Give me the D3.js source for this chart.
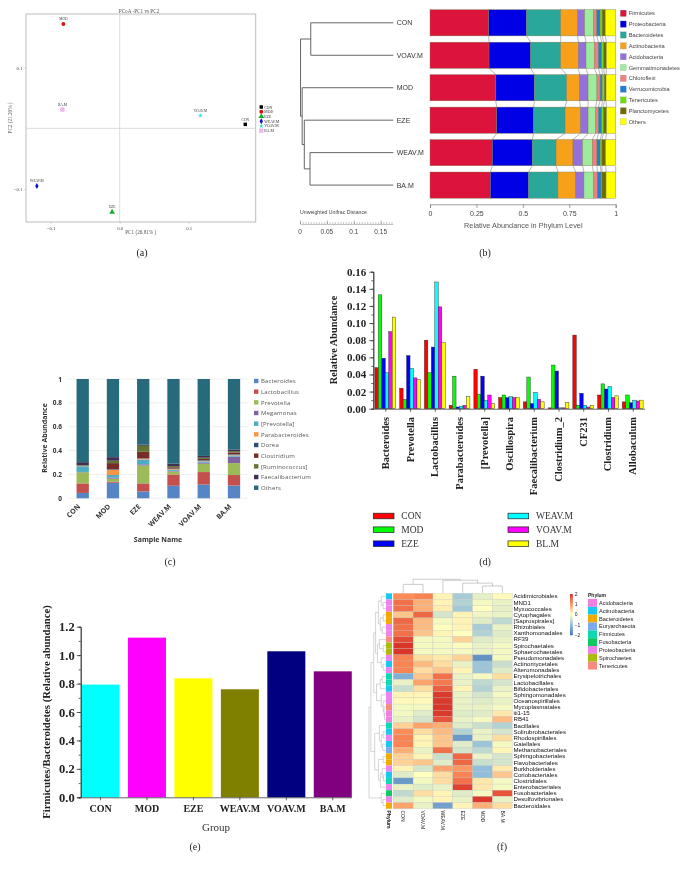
<!DOCTYPE html>
<html><head><meta charset="utf-8">
<script src="https://cdn.jsdelivr.net/npm/d3@7/dist/d3.min.js"></script>
<style>
html,body{margin:0;padding:0;background:#fff}
svg{display:block;filter:blur(0.3px)}
text{font-family:"Liberation Serif",serif}
.sans text,text.sans{font-family:"Liberation Sans",Arial,sans-serif}
.osans text{font-family:"Open Sans",sans-serif}
.soft{filter:blur(0.35px)}
</style></head><body>
<svg id="c" width="685" height="869"></svg>
<script>
// ---------- (a) PCoA
const pcoaNames = ["CON","MOD","EZE","WEAV.M","VOAV.M","BA.M"];
const pcoaX = [0.182,-0.0816,-0.011,-0.12,0.117,-0.083];
const pcoaY = [0.0066,0.172,-0.138,-0.095,0.021,0.031];
const pcoaColors = ["#000000","#e01010","#10b030","#1010d0","#30e0e0","#e48be4"];
const pcoaTicks = [-0.1,0,0.1];
// ---------- (b) phylum
const phyla = ["Firmicutes","Proteobacteria","Bacteroidetes","Actinobacteria","Acidobacteria","Gemmatimonadetes","Chloroflexi","Verrucomicrobia","Tenericutes","Planctomycetes","Others"];
const phylaColors = ["#DC143C","#0000E6","#2AA79B","#F7A11A","#9370DB","#9DEB9D","#F08080","#1E7FD8","#6EDD10","#6B6B00","#FFFF00"];
const phylaSamples = ["CON","VOAV.M","MOD","EZE","WEAV.M","BA.M"];
const phylaCON  = [.316,.204,.184,.091,.038,.047,.018,.018,.011,.017,.056];
const phylaVOAV = [.318,.224,.162,.095,.041,.045,.022,.018,.010,.015,.050];
const phylaMOD  = [.354,.208,.174,.070,.045,.048,.017,.012,.011,.009,.052];
const phylaEZE  = [.359,.199,.169,.083,.041,.041,.015,.018,.009,.017,.049];
const phylaWEAV = [.336,.215,.128,.091,.052,.052,.025,.018,.009,.020,.054];
const phylaBA   = [.325,.206,.158,.096,.044,.051,.021,.020,.005,.022,.052];
const phylaRows = [phylaCON,phylaVOAV,phylaMOD,phylaEZE,phylaWEAV,phylaBA];
// distance of each merge node, leaves by index into phylaSamples
const unifracTree = [.001,[.02,0,1],[.004,2,[.008,3,[.0186,4,5]]]];
const unifracLeafDist = .1735;
// ---------- (c) genus stacked
const genera = ["Bacteroides","Lactobacillus","Prevotella","Megamonas","[Prevotella]","Parabacteroides","Dorea","Clostridium","[Ruminococcus]","Faecalibacterium","Others"];
const generaColors = ["#5585C5","#C4504E","#9BBB59","#8064A2","#4BACC6","#F79646","#2C4D75","#772C2A","#5F7530","#403152","#276A7C"];
const generaSamples = ["CON","MOD","EZE","WEAV.M","VOAV.M","BA.M"];
const genCON  = [.045,.08,.093,.003,.047,.002,.002,.002,.004,.025,.697];
const genMOD  = [.13,.01,.025,.01,.02,.045,.005,.05,.02,.03,.655];
const genEZE  = [.058,.067,.15,.01,.04,.007,.003,.055,.05,.01,.55];
const genWEAV = [.105,.095,.025,.005,.01,.005,.005,.01,.01,.02,.71];
const genVOAV = [.115,.105,.07,.01,.01,.005,.005,.01,.01,.015,.645];
const genBA   = [.107,.088,.1,.055,.01,.005,.005,.015,.01,.015,.59];
const genRows = [genCON,genMOD,genEZE,genWEAV,genVOAV,genBA];
// ---------- (d) grouped
const dGenera = ["Bacteroides","Prevotella","Lactobacillus","Parabacteroides","[Prevotella]","Oscillospira","Faecalibacterium","Clostridium_2","CF231","Clostridium","Allobaculum"];
const dGroups = ["CON","MOD","EZE","WEAV.M","VOAV.M","BL.M"];
const dColors = ["#ff0000","#00ff00","#0000ff","#00ffff","#ff00ff","#ffff00"];
const dCON  = [.048,.024,.08,.004,.046,.013,.008,.001,.086,.016,.008];
const dMOD  = [.133,.011,.042,.038,.017,.016,.037,.051,.004,.029,.016];
const dEZE  = [.059,.062,.072,.002,.038,.013,.006,.044,.018,.023,.007];
const dWEAV = [.042,.047,.148,.003,.01,.014,.019,.001,.004,.026,.01];
const dVOAV = [.09,.036,.119,.004,.016,.013,.011,.001,.002,.013,.009];
const dBL   = [.107,.034,.077,.014,.006,.013,.008,.007,.004,.015,.01];
const dSeries = [dCON,dMOD,dEZE,dWEAV,dVOAV,dBL];
// ---------- (e) ratio
const eGroups = ["CON","MOD","EZE","WEAV.M","VOAV.M","BA.M"];
const eValues = [.793,1.123,.837,.76,1.027,.886];
const eColors = ["#00ffff","#ff00ff","#ffff00","#808000","#000080","#800080"];
// ---------- (f) heatmap
const fCols = ["CON","VOAV.M","WEAV.M","EZE","MOD","BA.M"];
const fRows = ["Acidimicrobiales","MND1","Myxococcales","Cytophagales","[Saprospirales]","Rhizobiales","Xanthomonadales","RF39","Spirochaetales","Sphaerochaetales","Pseudomonadales","Actinomycetales","Alteromonadales","Erysipelotrichales","Lactobacillales","Bifidobacteriales","Sphingomonadales","Oceanospirillales","Mycoplasmatales","iii1-15","RB41","Bacillales","Solirubrobacterales","Rhodospirillales","Gaiellales","Methanobacteriales","Sphingobacteriales","Flavobacteriales","Burkholderiales","Coriobacteriales","Clostridiales","Enterobacteriales","Fusobacteriales","Desulfovibrionales","Bacteroidales"];
const fMatrix = [
[1.0,1.1,.1,-.8,-.25,.05],[1.3,.7,.1,-.7,-.1,-.2],[1.3,.7,.15,-.85,0,-.25],[.5,1.4,-.4,.1,-.15,-.2],[1.4,.6,-.1,.1,-.3,-.6],
[1.3,.6,0,.1,-.8,-.2],[1.3,.5,.1,0,-.7,-.3],[1.7,-.1,-.1,.4,-.3,-.2],[1.95,-.1,-.1,-.05,-.2,-.1],[1.95,-.1,-.1,-.1,-.2,-.1],
[1.1,.3,.2,.4,-1.6,-.1],[1.1,.6,.3,-.2,-.9,-.5],[1.1,.3,.5,.1,-.9,-.3],[-1.2,.5,1.3,-.2,-.1,.3],[-.2,.8,1.2,-.2,-.6,-.4],
[-.5,.3,1.5,.1,-.7,-.2],[.1,.1,1.9,-.2,-.4,-.1],[.05,.05,1.9,-.2,-.3,-.2],[-.1,-.1,1.95,-.2,-.2,-.1],[-.1,-.3,1.9,-.3,-.3,.2],
[-.2,-.4,1.6,-.2,-.1,.6],[.4,.8,.7,-.3,-.5,-.7],[1.0,.3,.6,-.7,-.2,-.4],[1.1,.1,.5,-1.5,-.2,.3],[1.1,.1,.5,-.3,-.9,-.1],
[.7,-.2,1.3,-.4,-.6,.1],[.4,.1,-.5,1.4,-.2,-.4],[.4,.5,-.3,1.4,-.5,-.4],[.1,-.4,.8,.9,-1,.2],[-.3,0,.3,1.1,-1,.5],
[-1.5,-.1,.3,1.3,.2,-.1],[-.2,-.3,-.2,1.8,.2,-.1],[-.6,.3,.1,-.3,-.1,1.6],[-.3,-.1,.1,-.2,1.9,-.2],[.8,-.2,-1.4,.1,.7,.3]];
const fPhyla = ["Acidobacteria","Actinobacteria","Bacteroidetes","Euryarchaeota","Firmicutes","Fusobacteria","Proteobacteria","Spirochaetes","Tenericutes"];
const fPhylaColors = ["#F27FE0","#18C8F0","#F2A900","#7CA8F0","#10D8B0","#10C860","#EE82EE","#AABB10","#F88A80"];
const fRowPhylum = [1,6,6,2,2,6,6,8,7,7,6,1,6,4,4,1,6,6,8,0,0,4,1,6,1,3,2,2,6,1,4,6,5,6,2];
const fColTree = [14.3,[9,0,1],[13.3,2,[10.3,3,[7.3,4,5]]]];
const fRowTree = [18,[16,[13,[11,[8,[5,0,[3,1,2]],[6,[3,3,4],[4,5,6]]],[9,[7,7,[3,8,9]],[5,10,[3,11,12]]]],
  [10,[6,[4,13,14],15],[5,16,[3,17,[2,18,[1.5,19,20]]]]]],
  [12,[7,21,[5,[3,22,23],[3.5,24,25]]],[8,[3,26,27],[6,[4,28,[2.5,29,30]],31]]]],[5,32,[3,33,34]]];
const fLegendTicks = [2,1,0,-1,-2];

const svg = d3.select("#c");
function styleAxis(g,{color="#000",width=1}={}){g.selectAll("path,line").attr("stroke",color).attr("stroke-width",width);}
function caption(t,x,y){svg.append("text").attr("x",x).attr("y",y).attr("text-anchor","middle").attr("font-size",10).attr("fill","#222").text(t);}
// recursive tree -> hierarchy: node = [h, left, right] or leaf index
function toHier(t){return Array.isArray(t)?{h:t[0],children:[toHier(t[1]),toHier(t[2])]}:{h:0,leaf:t};}
function layoutTree(t,leafPos){
  const root=d3.hierarchy(toHier(t));
  root.eachAfter(n=>{n.pos=n.children?d3.mean(n.children,c=>c.pos):leafPos(n.data.leaf);});
  return root;
}

// ===== (a)
(function(){
  const g=svg.append("g").attr("class","soft");
  const x=d3.scaleLinear().domain([-0.1,0.1]).range([50.7,188.7]);
  const y=d3.scaleLinear().domain([-0.1,0.1]).range([189,67.7]);
  const x0=26,x1=255.7,y0=14,y1=222;
  g.append("rect").attr("x",x0).attr("y",y0).attr("width",x1-x0).attr("height",y1-y0).attr("fill","none").attr("stroke","#bdbdbd").attr("stroke-width",1);
  g.append("line").attr("x1",x(0)).attr("x2",x(0)).attr("y1",y0).attr("y2",y1).attr("stroke","#d4d4d4").attr("stroke-width",.8);
  g.append("line").attr("y1",y(0)).attr("y2",y(0)).attr("x1",x0).attr("x2",x1).attr("stroke","#d4d4d4").attr("stroke-width",.8);
  const fs=4.8;
  g.append("g").attr("transform",`translate(0,${y1})`).call(d3.axisBottom(x).tickValues(pcoaTicks).tickFormat(d3.format(".1f")).tickSize(1.5).tickPadding(3)).call(a=>{a.select(".domain").remove();styleAxis(a,{color:"#999",width:.5});a.selectAll("text").attr("font-size",fs).attr("font-family","Liberation Serif").attr("fill","#444");});
  g.append("g").attr("transform",`translate(${x0},0)`).call(d3.axisLeft(y).tickValues(pcoaTicks.filter(d=>d)).tickFormat(d3.format(".1f")).tickSize(1.5).tickPadding(2)).call(a=>{a.select(".domain").remove();styleAxis(a,{color:"#999",width:.5});a.selectAll("text").attr("font-size",fs).attr("font-family","Liberation Serif").attr("fill","#444");});
  const t=(s,xx,yy,rot)=>g.append("text").attr("text-anchor","middle").attr("font-size",5.2).attr("fill","#555").attr("transform",`translate(${xx},${yy})`+(rot?` rotate(${rot})`:"")).text(s);
  t("PCoA  -PC1  vs PC2",139,12.5);
  t("PC1 (26.81% )",140.7,234);
  t("PC2 (21.20% )",12,118,-90);
  const sym=[d3.symbolSquare,d3.symbolCircle,d3.symbolTriangle,d3.symbolDiamond,d3.symbolStar,d3.symbolSquare];
  const size=[12,12,14,10,7,12];
  const mark=(sel,i)=>{
    sel.append("path").attr("d",d3.symbol(sym[i],size[i])).attr("fill",i==5?"#f6d8f6":pcoaColors[i]).attr("stroke",i==5?pcoaColors[i]:"none").attr("stroke-width",.5);
    if(i==5)sel.append("path").attr("d","M-1.7,-1.7L1.7,1.7M-1.7,1.7L1.7,-1.7").attr("stroke",pcoaColors[i]).attr("stroke-width",.5);
  };
  pcoaNames.forEach((n,i)=>{
    mark(g.append("g").attr("transform",`translate(${x(pcoaX[i])},${y(pcoaY[i])})`),i);
    g.append("text").attr("x",x(pcoaX[i])).attr("y",y(pcoaY[i])-3.6).attr("text-anchor","middle").attr("font-size",3.5).attr("fill","#333").text(n);
    const ly=d3.scaleLinear().domain([0,5]).range([107,130.7])(i);
    mark(g.append("g").attr("transform",`translate(261.3,${ly})`),i);
    g.append("text").attr("x",264.3).attr("y",ly+1.5).attr("font-size",3.8).attr("fill","#333").text(n);
  });
  caption("(a)",142,256);
})();

// ===== (b)
(function(){
  const g=svg.append("g").attr("class","sans");
  const x=d3.scaleLinear().domain([0,1]).range([430,615.7]);
  const barH=26.2, yTop=i=>d3.scaleLinear().domain([0,5]).range([9.7,172])(i);
  const table=phylaSamples.map((s,i)=>{const o={s};phyla.forEach((p,j)=>o[p]=phylaRows[i][j]);return o;});
  const stack=d3.stack().keys(phyla)(table);
  // connectors
  stack.forEach(layer=>{
    for(let i=0;i<5;i++){
      g.append("line").attr("x1",x(layer[i][1])).attr("x2",x(layer[i+1][1])).attr("y1",yTop(i)+barH).attr("y2",yTop(i+1)).attr("stroke","#888").attr("stroke-width",.6);
    }
  });
  stack.forEach((layer,j)=>{
    g.append("g").selectAll("rect").data(layer).join("rect")
      .attr("x",d=>x(d[0])).attr("width",d=>x(d[1])-x(d[0]))
      .attr("y",(d,i)=>yTop(i)).attr("height",barH)
      .attr("fill",phylaColors[j]).attr("stroke","#7d7d50").attr("stroke-width",.4);
  });
  g.append("g").attr("transform","translate(0,204.3)")
    .call(d3.axisBottom(x).tickValues([0,.25,.5,.75,1]).tickFormat(d=>d===0?"0":d===1?"1":String(d)).tickSize(3.7).tickPadding(3))
    .call(a=>{styleAxis(a,{color:"#777",width:.7});a.selectAll("text").attr("font-size",7).attr("font-family","Liberation Sans").attr("fill","#444");});
  g.append("text").attr("x",523.3).attr("y",228).attr("text-anchor","middle").attr("font-size",7.3).attr("fill","#555").text("Relative Abundance in Phylum Level");
  phyla.forEach((p,j)=>{
    const ly=d3.scaleLinear().domain([0,10]).range([13.3,121.7])(j);
    g.append("rect").attr("x",620.3).attr("y",ly-3.2).attr("width",6).attr("height",6.4).attr("fill",phylaColors[j]).attr("stroke","#999").attr("stroke-width",.2);
    g.append("text").attr("x",628.7).attr("y",ly+2).attr("font-size",5.7).attr("fill","#444").text(p);
  });
  // dendrogram
  const dx=d3.scaleLinear().domain([0,.15]).range([300,380.7]);
  const leafY=i=>yTop(i)+barH/2;
  const root=layoutTree(unifracTree,leafY);
  const xOf=n=>n.children?dx(n.data.h):dx(unifracLeafDist);
  root.each(n=>{
    if(n.children){
      g.append("line").attr("x1",xOf(n)).attr("x2",xOf(n)).attr("y1",n.children[0].pos).attr("y2",n.children[1].pos).attr("stroke","#555").attr("stroke-width",.9);
      n.children.forEach(c=>g.append("line").attr("x1",xOf(n)).attr("x2",xOf(c)).attr("y1",c.pos).attr("y2",c.pos).attr("stroke","#555").attr("stroke-width",.9));
    }else{
      g.append("text").attr("x",396.7).attr("y",n.pos+2.5).attr("font-size",7).attr("fill","#333").text(phylaSamples[n.data.leaf]);
    }
  });
  g.append("text").attr("x",300).attr("y",214).attr("font-size",5.2).attr("fill","#444").text("Unweighted Unifrac Distance");
  const sg=g.append("g").attr("transform","translate(0,224)");
  sg.call(d3.axisTop(dx.copy().domain([0,.1725]).range([300,392.8])).tickValues(d3.range(0,.1725,.005)).tickFormat(()=>"").tickSize(1.8).tickSizeOuter(0));
  styleAxis(sg,{color:"#666",width:.4});
  const sg2=g.append("g").attr("transform","translate(0,224)");
  sg2.call(d3.axisTop(dx).tickValues([0,.05,.1,.15]).tickFormat(()=>"").tickSize(3.5).tickSizeOuter(0));
  styleAxis(sg2,{color:"#666",width:.5});sg2.select(".domain").remove();
  [0,.05,.1,.15].forEach(v=>g.append("text").attr("x",dx(v)).attr("y",233.5).attr("text-anchor","middle").attr("font-size",6.5).attr("fill","#444").text(v));
  caption("(b)",485,256);
})();

// ===== (c)
(function(){
  const g=svg.append("g").attr("class","osans");
  const y=d3.scaleLinear().domain([0,1]).range([498.3,379]);
  const x=d3.scalePoint().domain(generaSamples).range([82.7,234]);
  [0,.2,.4,.6,.8,1].forEach(v=>g.append("line").attr("x1",67.3).attr("x2",248).attr("y1",y(v)).attr("y2",y(v)).attr("stroke","#e9e9e9").attr("stroke-width",.7));
  const table=generaSamples.map((s,i)=>{const o={s};genera.forEach((p,j)=>o[p]=genRows[i][j]);return o;});
  d3.stack().keys(genera)(table).forEach((layer,j)=>{
    g.append("g").selectAll("rect").data(layer).join("rect")
      .attr("x",d=>x(d.data.s)-6.15).attr("width",12.3)
      .attr("y",d=>y(d[1])).attr("height",d=>y(d[0])-y(d[1])).attr("fill",generaColors[j]);
  });
  g.append("g").attr("transform","translate(62,0)").call(d3.axisLeft(y).tickValues([0,.2,.4,.6,.8,1]).tickFormat(d=>d===0?"0":d===1?"1":String(d)).tickSize(0).tickPadding(0))
    .call(a=>{a.select(".domain").remove();a.selectAll("text").attr("font-size",6.5).attr("font-weight",700).attr("font-family","Open Sans").attr("fill","#333");});
  generaSamples.forEach(s=>g.append("text").attr("transform",`translate(${x(s)-2},507) rotate(-45)`).attr("text-anchor","end").attr("font-size",7).attr("font-weight",700).attr("fill","#333").text(s));
  g.append("text").attr("x",158).attr("y",541.5).attr("text-anchor","middle").attr("font-size",7).attr("font-weight",700).attr("fill","#333").text("Sample Name");
  g.append("text").attr("transform","translate(47,438) rotate(-90)").attr("text-anchor","middle").attr("font-size",7).attr("font-weight",700).attr("fill","#333").text("Relative Abundance");
  genera.forEach((p,j)=>{
    const ly=d3.scaleLinear().domain([0,10]).range([381,487.7])(j);
    g.append("rect").attr("x",254).attr("y",ly-2.2).attr("width",4.4).attr("height",4.4).attr("fill",generaColors[j]);
    g.append("text").attr("x",261).attr("y",ly+2.2).attr("font-size",6).attr("letter-spacing",.15).attr("fill","#555").text(p);
  });
  caption("(c)",170,565);
})();

// ===== (d)
(function(){
  const g=svg.append("g");
  const y=d3.scaleLinear().domain([0,.16]).range([408.7,271.7]);
  const cx=d3.scalePoint().domain(dGenera).range([385.3,632.7]);
  const b=d3.scaleBand().domain(d3.range(6)).range([-10.4,10.4]);
  dSeries.forEach((vals,s)=>{
    g.append("g").selectAll("rect").data(vals).join("rect")
      .attr("x",(d,i)=>cx(dGenera[i])+b(s)).attr("width",b.bandwidth())
      .attr("y",d=>y(d)).attr("height",d=>y(0)-y(d))
      .attr("fill",dColors[s]).attr("stroke","#222").attr("stroke-width",.4);
  });
  const tickFont=a=>a.selectAll("text").attr("font-size",11).attr("font-weight",700).attr("font-family","Liberation Serif").attr("fill","#222");
  g.append("g").attr("transform","translate(373.3,0)").call(d3.axisLeft(y).tickValues(d3.range(0,.161,.01)).tickFormat(()=>"").tickSize(2)).call(a=>styleAxis(a,{color:"#222",width:.7}));
  g.append("g").attr("transform","translate(373.3,0)").call(d3.axisLeft(y).tickValues(d3.range(0,.161,.02)).tickFormat(d3.format(".2f")).tickSize(4).tickPadding(3).tickSizeOuter(0)).call(a=>{styleAxis(a,{color:"#222",width:.7});tickFont(a);});
  g.append("g").attr("transform","translate(0,408.7)").call(d3.axisBottom(cx).tickSize(3).tickSizeOuter(0).tickFormat(()=>"")).call(a=>{styleAxis(a,{color:"#222",width:.7});a.select(".domain").attr("d","M373.3,0.5H645");});
  dGenera.forEach(n=>g.append("text").attr("transform",`translate(${cx(n)+3.5},417) rotate(-90)`).attr("text-anchor","end").attr("font-size",10.5).attr("font-weight",700).attr("fill","#222").text(n));
  g.append("text").attr("transform","translate(337,340) rotate(-90)").attr("text-anchor","middle").attr("font-size",10.3).attr("font-weight",700).attr("fill","#222").text("Relative Abundance");
  dGroups.forEach((n,i)=>{
    const col=i<3?0:1, row=i%3;
    const lx=[373.3,508][col], ly=[516,529.7,543.7][row];
    g.append("rect").attr("x",lx).attr("y",ly-2.8).attr("width",20.7).attr("height",5.6).attr("fill",dColors[i]).attr("stroke","#222").attr("stroke-width",.7);
    g.append("text").attr("x",lx+28).attr("y",ly+3.2).attr("font-size",9.5).attr("fill","#333").text(n);
  });
  caption("(d)",485,564.5);
})();

// ===== (e)
(function(){
  const g=svg.append("g");
  const y=d3.scaleLinear().domain([0,1.2]).range([797.3,626.7]);
  const x=d3.scaleBand().domain(eGroups).range([77.3,356]).paddingInner(.182).paddingOuter(.091);
  g.selectAll("rect").data(eValues).join("rect")
    .attr("x",(d,i)=>x(eGroups[i])).attr("width",x.bandwidth())
    .attr("y",d=>y(d)).attr("height",d=>y(0)-y(d)).attr("fill",(d,i)=>eColors[i]);
  g.append("g").attr("transform","translate(80.7,0)").call(d3.axisLeft(y).tickValues(d3.range(0,1.21,.1)).tickFormat(()=>"").tickSize(2)).call(a=>styleAxis(a,{color:"#222",width:.7}));
  g.append("g").attr("transform","translate(80.7,0)").call(d3.axisLeft(y).tickValues(d3.range(0,1.21,.2)).tickFormat(d3.format(".1f")).tickSize(4).tickPadding(2).tickSizeOuter(0)).call(a=>{styleAxis(a,{color:"#222",width:.7});a.selectAll("text").attr("font-size",12.5).attr("font-weight",700).attr("font-family","Liberation Serif").attr("fill","#222");});
  g.append("g").attr("transform","translate(0,797.3)").call(d3.axisBottom(x).tickSize(3).tickSizeOuter(0).tickPadding(5)).call(a=>{styleAxis(a,{color:"#222",width:.7});a.select(".domain").attr("d","M77,0.5H352");a.selectAll("text").attr("font-size",10).attr("font-weight",700).attr("font-family","Liberation Serif").attr("fill","#222");});
  g.append("text").attr("x",216).attr("y",830.5).attr("text-anchor","middle").attr("font-size",11).attr("fill","#333").text("Group");
  g.append("text").attr("transform","translate(50,712) rotate(-90)").attr("text-anchor","middle").attr("font-size",10.7).attr("font-weight",700).attr("fill","#222").text("Firmicutes/Bacteroidetes (Relative abundance)");
  caption("(e)",195,850);
})();

// ===== (f)
(function(){
  const g=svg.append("g").attr("class","sans");
  const x=d3.scaleBand().domain(fCols).range([393.3,512.3]);
  const y=d3.scaleBand().domain(fRows).range([593.3,808.7]);
  const color=d3.scaleLinear().domain([-2,-1,0,1,2]).range(["#4575B4","#91BFDB","#FFFFBF","#FC8D59","#D73027"]);
  fMatrix.forEach((r,i)=>{
    g.append("g").selectAll("rect").data(r).join("rect")
      .attr("x",(d,j)=>x(fCols[j])).attr("y",y(fRows[i])).attr("width",x.bandwidth()).attr("height",y.bandwidth())
      .attr("fill",d=>color(d)).attr("stroke","#bbb").attr("stroke-width",.25);
  });
  g.append("g").selectAll("rect").data(fRowPhylum).join("rect")
    .attr("x",386).attr("width",6).attr("y",(d,i)=>y(fRows[i])).attr("height",y.bandwidth()).attr("fill",d=>fPhylaColors[d]);
  fRows.forEach(n=>g.append("text").attr("x",513.5).attr("y",y(n)+y.bandwidth()/2+2).attr("font-size",6.1).attr("fill","#111").text(n));
  fCols.forEach(n=>g.append("text").attr("transform",`translate(${x(n)+x.bandwidth()/2-1.8},810.5) rotate(90)`).attr("font-size",5).attr("fill","#222").text(n));
  g.append("text").attr("transform","translate(387.2,810.5) rotate(90)").attr("font-size",5).attr("font-weight",700).attr("fill","#222").text("Phylum");
  // column dendrogram
  const hy=d3.scaleLinear().domain([0,14.3]).range([593,579.3]);
  const colRoot=layoutTree(fColTree,i=>x(fCols[i])+x.bandwidth()/2);
  colRoot.each(n=>{if(n.children){const h=hy(n.data.h);
    g.append("path").attr("fill","none").attr("stroke","#aaa").attr("stroke-width",.6)
      .attr("d",`M${n.children[0].pos},${hy(n.children[0].data.h)}V${h}H${n.children[1].pos}V${hy(n.children[1].data.h)}`);}});
  // row dendrogram
  const hx=d3.scaleLinear().domain([0,18]).range([386,369]);
  const rowRoot=layoutTree(fRowTree,i=>y(fRows[i])+y.bandwidth()/2);
  rowRoot.each(n=>{if(n.children){const h=hx(n.data.h);
    g.append("path").attr("fill","none").attr("stroke","#aaa").attr("stroke-width",.5)
      .attr("d",`M${hx(n.children[0].data.h)},${n.children[0].pos}H${h}V${n.children[1].pos}H${hx(n.children[1].data.h)}`);}});
  // colorbar
  const cy=d3.scaleLinear().domain([2,-2]).range([594,635]);
  g.append("g").selectAll("rect").data(d3.range(2,-2,-.1)).join("rect")
    .attr("x",570).attr("width",2.8).attr("y",d=>cy(d)).attr("height",cy(0)-cy(.1)+.3).attr("fill",d=>color(d-.05));
  fLegendTicks.forEach(v=>g.append("text").attr("x",574.7).attr("y",cy(v)+1.8).attr("font-size",5).attr("fill","#222").text(v<0?"\u2212"+(-v):v));
  g.append("text").attr("x",588).attr("y",597).attr("font-size",5).attr("font-weight",700).attr("fill","#222").text("Phylum");
  const ly=d3.scaleBand().domain(fPhyla).range([599,669.5]);
  fPhyla.forEach((p,i)=>{
    g.append("rect").attr("x",588).attr("y",ly(p)).attr("width",9).attr("height",ly.bandwidth()).attr("fill",fPhylaColors[i]);
    g.append("text").attr("x",599).attr("y",ly(p)+ly.bandwidth()/2+2).attr("font-size",5.6).attr("fill","#222").text(p);
  });
  caption("(f)",502,850);
})();
</script></body></html>
